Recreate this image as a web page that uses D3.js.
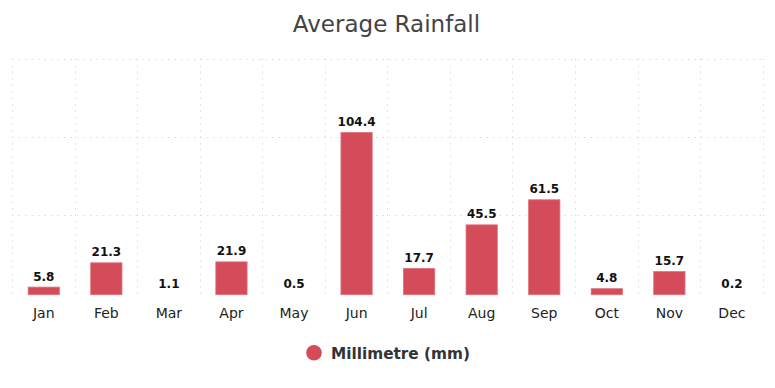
<!DOCTYPE html>
<html>
<head>
<meta charset="utf-8">
<script src="https://cdn.jsdelivr.net/npm/d3@7"></script>
<style>
  body { margin: 0; background: #fff; }
  svg { display: block; font-family: "DejaVu Sans", sans-serif; }
</style>
</head>
<body>
<svg id="chart" width="775" height="388"></svg>
<script>
// data
const months = ['Jan', 'Feb', 'Mar', 'Apr', 'May', 'Jun', 'Jul', 'Aug', 'Sep', 'Oct', 'Nov', 'Dec'];
const rainfall = [5.8, 21.3, 1.1, 21.9, 0.5, 104.4, 17.7, 45.5, 61.5, 4.8, 15.7, 0.2];
const yTicks = [50, 100, 150];
const seriesName = 'Millimetre (mm)';

const svg = d3.select('#chart');
const plotLeft = 12, plotRight = 762.7, plotTop = 59.5, plotBottom = 294.7;

const x = d3.scaleBand().domain(months).range([plotLeft, plotRight]).paddingInner(0).paddingOuter(0);
const y = d3.scaleLinear().domain([0, 150]).range([plotBottom, plotTop]);

// title
svg.append('text')
    .attr('x', 386.5).attr('y', 31.5)
    .attr('text-anchor', 'middle')
    .attr('font-size', 23)
    .attr('fill', '#444')
    .text('Average Rainfall');

// grid
const grid = svg.append('g').attr('stroke', '#ddd').attr('stroke-dasharray', '1.5,5');
grid.selectAll('.hline')
    .data(yTicks)
    .enter().append('line')
    .attr('x1', plotLeft).attr('x2', plotRight)
    .attr('y1', d => Math.round(y(d)) - 0.5).attr('y2', d => Math.round(y(d)) - 0.5);
grid.selectAll('.vline')
    .data(months.map(m => x(m)).concat([plotRight]))
    .enter().append('line')
    .attr('x1', d => Math.round(d) + 0.5).attr('x2', d => Math.round(d) + 0.5)
    .attr('y1', plotTop - 1).attr('y2', plotBottom);

// bars (border eats ~1.5px off the top, tiny ones vanish)
const bw = x.bandwidth() * 0.5;
const barH = d => {
    const h = plotBottom - y(d) - 1.5;
    return h < 1 ? 0 : h;
};
svg.append('g').selectAll('rect')
    .data(rainfall)
    .enter().append('rect')
    .attr('x', (d, i) => x(months[i]) + (x.bandwidth() - bw) / 2 + 0.5)
    .attr('y', d => plotBottom - barH(d))
    .attr('width', bw)
    .attr('height', d => barH(d))
    .attr('fill', '#d44c59')
    .attr('stroke', '#e0727c')
    .attr('stroke-width', d => barH(d) > 0 ? 0.8 : 0);

// value labels
svg.append('g').selectAll('text')
    .data(rainfall)
    .enter().append('text')
    .attr('x', (d, i) => x(months[i]) + x.bandwidth() / 2 + 0.5)
    .attr('y', d => plotBottom - barH(d) - 6.5)
    .attr('text-anchor', 'middle')
    .attr('font-size', 12)
    .attr('font-weight', 'bold')
    .attr('fill', '#111')
    .text(d => d);

// x axis labels
const xAxis = d3.axisBottom(x).tickSize(0).tickPadding(13.3);
const gx = svg.append('g').attr('transform', `translate(0.5,${plotBottom})`).call(xAxis);
gx.select('.domain').remove();
gx.selectAll('text').attr('font-size', 14).attr('fill', '#222').attr('font-family', '"DejaVu Sans", sans-serif');

// legend
const legend = svg.append('g');
legend.append('circle').attr('cx', 314).attr('cy', 352.7).attr('r', 7.8).attr('fill', '#d44c59');
legend.append('text')
    .attr('x', 331).attr('y', 358.5)
    .attr('font-size', 15.3).attr('font-weight', 'bold').attr('fill', '#333')
    .text(seriesName);
</script>
</body>
</html>
